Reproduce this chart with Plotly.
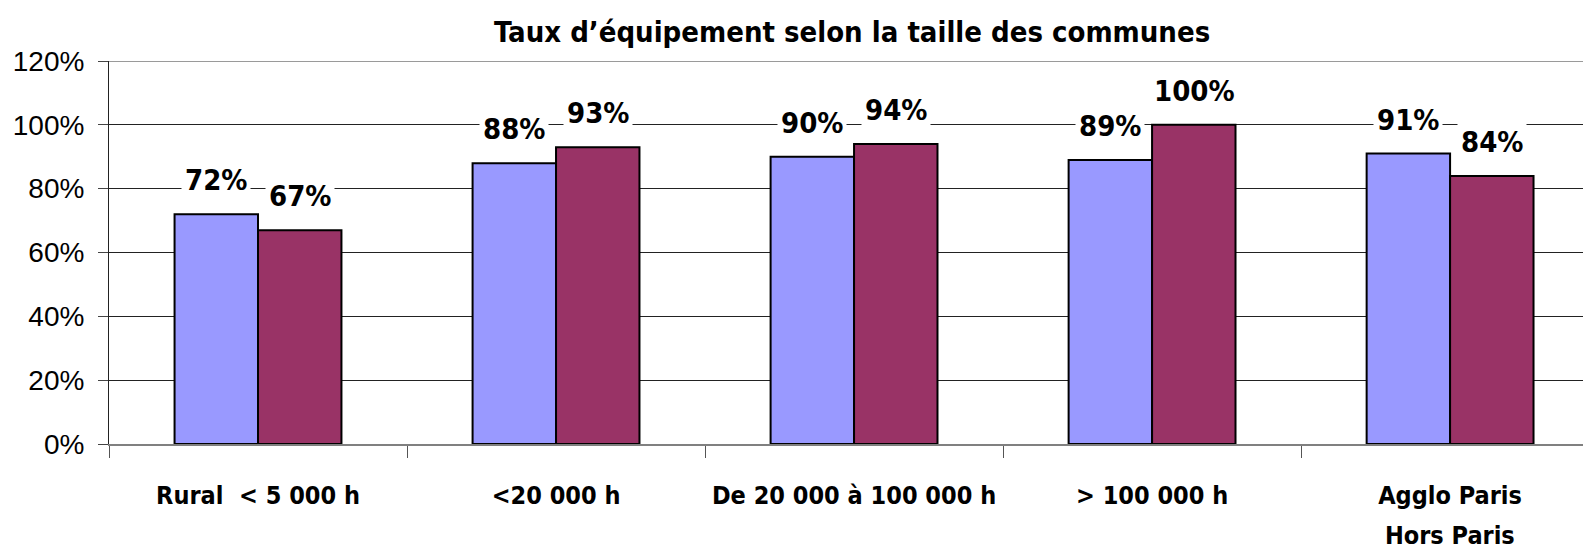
import plotly.graph_objects as go

categories = ["Rural\u00a0\u00a0< 5 000 h", "<20 000 h", "De 20 000 à 100 000 h", "> 100 000 h", "Agglo Paris"]
category_second_line = ["", "", "", "", "Hors Paris"]
series_a = [72, 88, 90, 89, 91]
series_b = [67, 93, 94, 100, 84]
y_ticks = [0, 20, 40, 60, 80, 100, 120]
y_tick_labels = ["0%", "20%", "40%", "60%", "80%", "100%", "120%"]
title_text = "Taux d\u2019équipement selon la taille des communes"

NARROW = "DejaVu Sans Condensed, Liberation Sans Narrow, sans-serif"
REG = "Liberation Sans, Arial, sans-serif"

fig = go.Figure()
fig.add_trace(go.Bar(x=categories, y=series_a, marker=dict(color="#9999FF", line=dict(color="black", width=2)),
                     offsetgroup="a"))
fig.add_trace(go.Bar(x=categories, y=series_b, marker=dict(color="#993366", line=dict(color="black", width=2)),
                     offsetgroup="b"))

# top border of plot area drawn gray (under labels)
fig.add_hline(y=y_ticks[-1], line=dict(color="#9a9a9a", width=2), layer="above")

for i, c in enumerate(categories):
    for vals, shift in ((series_a, -42), (series_b, 42)):
        fig.add_annotation(x=c, y=vals[i], xref="x", yref="y", text=f"<b>{vals[i]}%</b>",
                           showarrow=False, xshift=shift, yshift=34, yanchor="middle",
                           bgcolor="white", borderpad=3,
                           font=dict(family=NARROW, size=29, color="black"))
    if category_second_line[i]:
        fig.add_annotation(x=c, y=0, xref="x", yref="y", text=f"<b>{category_second_line[i]}</b>",
                           showarrow=False, yshift=-91, yanchor="middle",
                           font=dict(family=NARROW, size=25, color="black"))

fig.add_annotation(x=0.504, y=1 + (61 - 32) / (554 - 61 - 110), xref="paper", yref="paper",
                   text=f"<b>{title_text}</b>", showarrow=False, yanchor="middle",
                   font=dict(family=NARROW, size=29, color="black"))

fig.update_layout(
    width=1583, height=554,
    margin=dict(l=109, r=0, t=61, b=110, autoexpand=False),
    plot_bgcolor="white", paper_bgcolor="white",
    showlegend=False,
    bargap=0.44, bargroupgap=0,
    barmode="group",
)

fig.update_xaxes(
    type="category", range=[-0.5, 4.446],
    tickson="boundaries", ticks="outside", ticklen=12, tickcolor="#555", tickwidth=1,
    showline=True, linecolor="#808080", linewidth=2,
    showgrid=False, tickangle=0,
    tickfont=dict(family=NARROW, size=25, color="black"),
    ticklabelstandoff=28,
    tickvals=categories, ticktext=[f"<b>{c}</b>" for c in categories],
)
fig.update_yaxes(
    range=[0, 120], tickvals=y_ticks, ticktext=y_tick_labels,
    showgrid=True, gridcolor="#222", gridwidth=1,
    ticks="outside", ticklen=10, tickcolor="#444",
    showline=True, linecolor="#222", linewidth=1,
    tickfont=dict(family=REG, size=28, color="black"),
    ticklabelstandoff=8,
    zeroline=False,
)
fig.write_html("out.html", post_script="document.body.style.margin='0';",
               config={"displayModeBar": False})
